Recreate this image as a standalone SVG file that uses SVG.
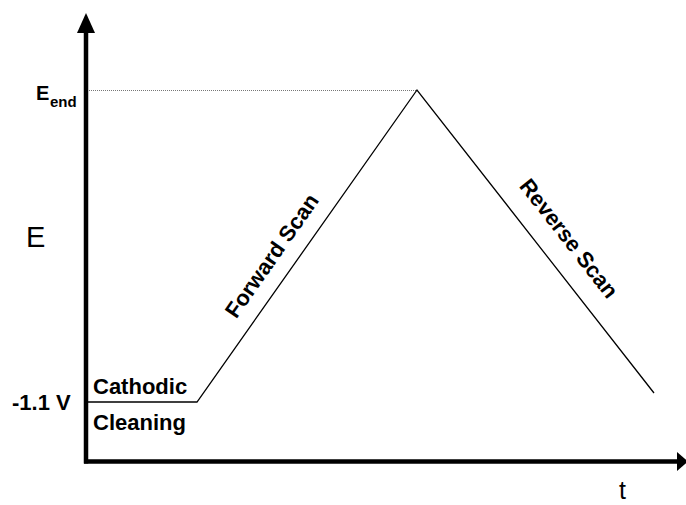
<svg xmlns="http://www.w3.org/2000/svg" width="686" height="505" viewBox="0 0 686 505">
<style>
.b{font-family:"Liberation Sans",Arial,sans-serif;font-weight:bold;fill:#000}
.r{font-family:"Liberation Sans",Arial,sans-serif;fill:#000}
.ax{stroke:#000;stroke-width:4.5;fill:none}
.cv{stroke:#000;stroke-width:1.3;fill:none;stroke-linejoin:miter}
</style>
<rect width="686" height="505" fill="#fff"/>
<g id="axes">
<line class="ax" x1="86" y1="463.5" x2="86" y2="30"/>
<polygon points="86,13 77,33 95,33" fill="#000"/>
<line class="ax" x1="84" y1="461.5" x2="680" y2="461.5"/>
<polygon points="688,461.5 677,452 677,471" fill="#000"/>
</g>
<g id="connectors">
<line x1="89" y1="90.5" x2="416" y2="90.5" stroke="#777" stroke-width="1.2" stroke-dasharray="1 1"/>
<polyline class="cv" points="88,402 197,402 417,90 654,393"/>
</g>
<g id="labels">
<text class="b" x="36" y="100" font-size="20">E</text>
<text class="b" x="50" y="107" font-size="15">end</text>
<text class="r" x="26" y="247" font-size="29">E</text>
<text class="b" x="12" y="410" font-size="22">-1.1 V</text>
<text class="b" x="93" y="394" font-size="22">Cathodic</text>
<text class="b" x="93" y="430" font-size="22">Cleaning</text>
<text class="r" x="619" y="499" font-size="25">t</text>
<text class="b" font-size="22" text-anchor="middle" transform="translate(278,260) rotate(-55)">Forward Scan</text>
<text class="b" font-size="22" text-anchor="middle" transform="translate(563,243) rotate(52)">Reverse Scan</text>
</g>
</svg>
